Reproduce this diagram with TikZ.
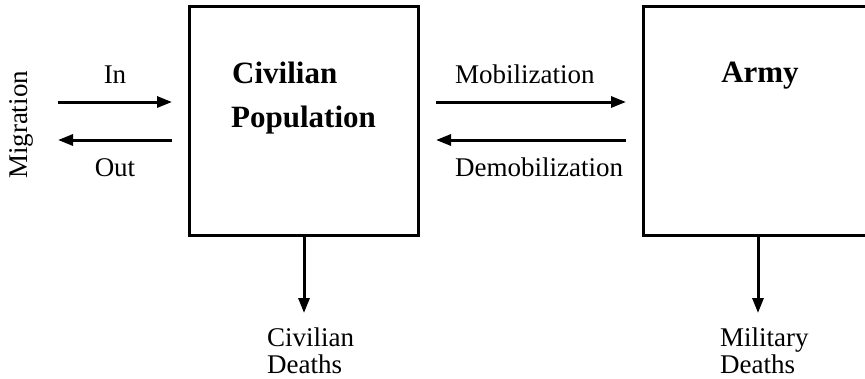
\documentclass[tikz,border=0pt]{standalone}
\usepackage{fontspec}
\setmainfont{Liberation Serif}
\usetikzlibrary{arrows.meta}
\begin{document}
\begin{tikzpicture}[x=1pt,y=-1pt,
  box/.style={draw, line width=3pt, outer sep=0pt, inner sep=0pt, minimum height=229pt},
  arr/.style={line width=3pt, -{Triangle[length=15pt,width=11pt]}},
  lbl/.style={inner sep=0pt, font=\fontsize{27}{27}\selectfont},
  blbl/.style={inner sep=0pt, font=\fontsize{31}{31}\selectfont\bfseries}]
\useasboundingbox (0,0) rectangle (865,378);
% boxes
\node[box, minimum width=229pt] (civ) at (303.5,120.5) {};
\node[box, minimum width=224pt] (army) at (755,121) {};
% labels in boxes
\node[blbl, anchor=base west] (civA) at (232,83) {Civilian};
\node[blbl, anchor=base west] (civB) at (231,127) {Population};
\node[blbl, anchor=base] (armyL) at (760,82) {Army};
% migration
\coordinate (inL) at (58,102);
\coordinate (outL) at (58,140);
\draw[arr] (inL) -- ([xshift=-17pt]civ.west |- inL);
\draw[arr] ([xshift=-17pt]civ.west |- outL) -- (outL);
\node[lbl, anchor=base] (inT) at (115,83) {In};
\node[lbl, anchor=base] (outT) at (115,176) {Out};
\node[lbl, rotate=90, anchor=center] (mig) at (21,125) {Migration};
% mobilization
\coordinate (mobY) at (0,102);
\coordinate (demY) at (0,140);
\draw[arr] ([xshift=18pt]civ.east |- mobY) -- ([xshift=-17pt]army.west |- mobY);
\draw[arr] ([xshift=-17pt]army.west |- demY) -- ([xshift=18pt]civ.east |- demY);
\node[lbl, anchor=base west] (mobT) at (455,83) {Mobilization};
\node[lbl, anchor=base west] (demT) at (455,176) {Demobilization};
% deaths
\coordinate (civD) at (304,313);
\coordinate (armyD) at (758,313);
\draw[arr] (civ.south -| civD) -- (civD);
\draw[arr] (army.south -| armyD) -- (armyD);
\node[lbl, anchor=base west] (cdA) at (267,346) {Civilian};
\node[lbl, anchor=base west] (cdB) at (267,373) {Deaths};
\node[lbl, anchor=base west] (mdA) at (720,346) {Military};
\node[lbl, anchor=base west] (mdB) at (720,373) {Deaths};
\end{tikzpicture}
\end{document}
